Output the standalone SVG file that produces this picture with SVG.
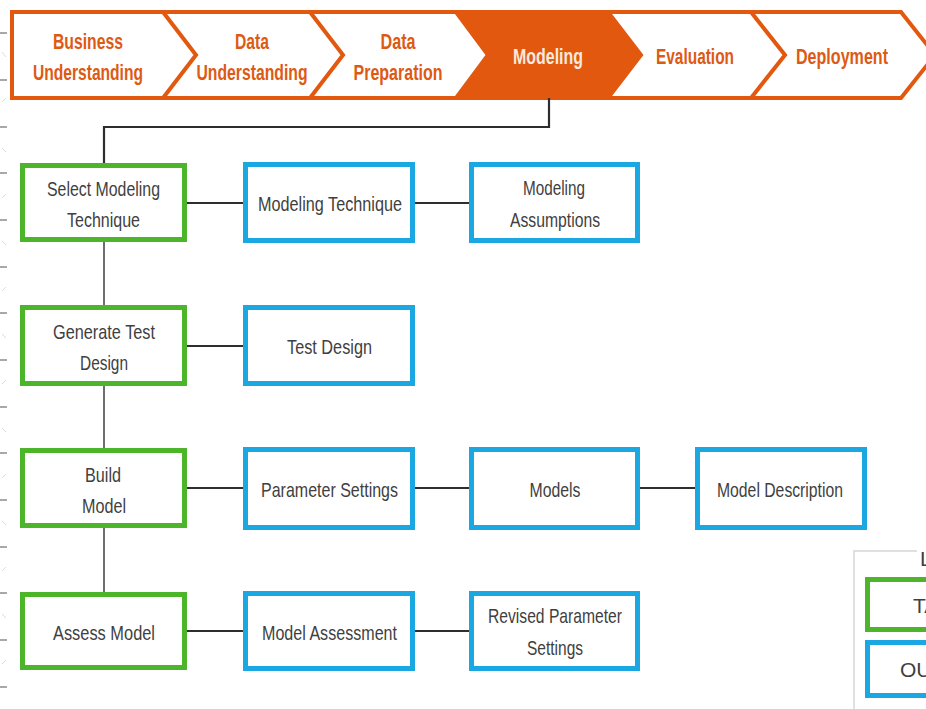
<svg xmlns="http://www.w3.org/2000/svg" width="926" height="709" viewBox="0 0 926 709">
  <style>
    .phase { font-family: "Liberation Sans Narrow", "Liberation Sans", Arial, sans-serif; font-weight: bold; font-size: 22px; fill: #DD5A14; text-anchor: middle; }
    .phase.active { fill: #F6EADF; }
    .sep { fill: none; stroke: #E2580E; stroke-width: 4; stroke-linejoin: miter; }
    .task { fill: #ffffff; stroke: #4DB52A; stroke-width: 5; }
    .out { fill: #ffffff; stroke: #1AA7E2; stroke-width: 5; }
    .lbl { font-family: "Liberation Sans Narrow", "Liberation Sans", Arial, sans-serif; font-size: 21px; fill: #3f3f3f; text-anchor: middle; }
    .leg { font-family: "Liberation Sans Narrow", "Liberation Sans", Arial, sans-serif; font-size: 21px; fill: #3f3f3f; }
    .link { fill: none; stroke: #2e2e2e; stroke-width: 2.2; }
    .vlink { fill: none; stroke: #6e6e6e; stroke-width: 2; }
    .tick { stroke: #a8a8a8; stroke-width: 2; }
    .dash { stroke: #dcdcdc; stroke-width: 1; }
  </style>

  <rect width="926" height="709" fill="#ffffff"/>

  <!-- ruler marks along the left edge -->
  <g id="ruler">
    <line class="tick" x1="0" y1="33" x2="7" y2="33"/>
    <line class="tick" x1="0" y1="80" x2="7" y2="80"/>
    <line class="tick" x1="0" y1="127" x2="7" y2="127"/>
    <line class="tick" x1="0" y1="173" x2="7" y2="173"/>
    <line class="tick" x1="0" y1="220" x2="7" y2="220"/>
    <line class="tick" x1="0" y1="267" x2="7" y2="267"/>
    <line class="tick" x1="0" y1="313" x2="7" y2="313"/>
    <line class="tick" x1="0" y1="360" x2="7" y2="360"/>
    <line class="tick" x1="0" y1="407" x2="7" y2="407"/>
    <line class="tick" x1="0" y1="453" x2="7" y2="453"/>
    <line class="tick" x1="0" y1="500" x2="7" y2="500"/>
    <line class="tick" x1="0" y1="547" x2="7" y2="547"/>
    <line class="tick" x1="0" y1="593" x2="7" y2="593"/>
    <line class="tick" x1="0" y1="640" x2="7" y2="640"/>
    <line class="tick" x1="0" y1="687" x2="7" y2="687"/>
    <line class="dash" x1="2" y1="52" x2="6" y2="57"/>
    <line class="dash" x1="2" y1="102" x2="6" y2="98"/>
    <line class="dash" x1="2" y1="148" x2="6" y2="152"/>
    <line class="dash" x1="2" y1="198" x2="6" y2="194"/>
    <line class="dash" x1="2" y1="241" x2="6" y2="245"/>
    <line class="dash" x1="2" y1="291" x2="6" y2="287"/>
    <line class="dash" x1="2" y1="334" x2="6" y2="338"/>
    <line class="dash" x1="2" y1="384" x2="6" y2="380"/>
    <line class="dash" x1="2" y1="428" x2="6" y2="432"/>
    <line class="dash" x1="2" y1="478" x2="6" y2="474"/>
    <line class="dash" x1="2" y1="521" x2="6" y2="525"/>
    <line class="dash" x1="2" y1="571" x2="6" y2="567"/>
    <line class="dash" x1="2" y1="614" x2="6" y2="618"/>
    <line class="dash" x1="2" y1="664" x2="6" y2="660"/>
  </g>

  <!-- process phase bar -->
  <g id="phases">
    <path d="M12,12 H901 L935,55 L901,98 H12 Z" fill="#ffffff" stroke="#E2580E" stroke-width="4"/>
    <path d="M456,12 L488,55 L456,98 H608 L641,55 L608,12 Z" fill="#E2580E" stroke="#E2580E" stroke-width="4" stroke-linejoin="miter"/>
    <polyline class="sep" points="163,12 196,55 163,98"/>
    <polyline class="sep" points="310,12 343,55 310,98"/>
    <polyline class="sep" points="751,12 785,55 751,98"/>
  </g>
  <g id="phase-business">
    <text class="phase" x="88" y="49" textLength="70" lengthAdjust="spacingAndGlyphs">Business</text>
    <text class="phase" x="88" y="80" textLength="110" lengthAdjust="spacingAndGlyphs">Understanding</text>
  </g>
  <g id="phase-data-understanding">
    <text class="phase" x="252" y="49" textLength="34" lengthAdjust="spacingAndGlyphs">Data</text>
    <text class="phase" x="252" y="80" textLength="111" lengthAdjust="spacingAndGlyphs">Understanding</text>
  </g>
  <g id="phase-data-preparation">
    <text class="phase" x="398" y="49" textLength="35" lengthAdjust="spacingAndGlyphs">Data</text>
    <text class="phase" x="398" y="80" textLength="89" lengthAdjust="spacingAndGlyphs">Preparation</text>
  </g>
  <g id="phase-modeling">
    <text class="phase active" x="548" y="64" textLength="70" lengthAdjust="spacingAndGlyphs">Modeling</text>
  </g>
  <g id="phase-evaluation">
    <text class="phase" x="695" y="64" textLength="78" lengthAdjust="spacingAndGlyphs">Evaluation</text>
  </g>
  <g id="phase-deployment">
    <text class="phase" x="842" y="64" textLength="92" lengthAdjust="spacingAndGlyphs">Deployment</text>
  </g>

  <!-- connectors -->
  <g id="connectors">
    <polyline class="link" points="549,98 549,127 104,127 104,163"/>
    <line class="vlink" x1="104" y1="242" x2="104" y2="305"/>
    <line class="vlink" x1="104" y1="386" x2="104" y2="448"/>
    <line class="vlink" x1="104" y1="528" x2="104" y2="592"/>
    <line class="link" x1="187" y1="203" x2="243" y2="203"/>
    <line class="link" x1="415" y1="203" x2="469" y2="203"/>
    <line class="link" x1="187" y1="346" x2="243" y2="346"/>
    <line class="link" x1="187" y1="488" x2="243" y2="488"/>
    <line class="link" x1="415" y1="488" x2="469" y2="488"/>
    <line class="link" x1="640" y1="488" x2="695" y2="488"/>
    <line class="link" x1="187" y1="631" x2="243" y2="631"/>
    <line class="link" x1="415" y1="631" x2="469" y2="631"/>
  </g>

  <!-- tasks -->
  <g id="task-select-modeling-technique">
    <rect class="task" x="22.5" y="165.5" width="162" height="74"/>
    <text class="lbl" x="103.5" y="196" textLength="113" lengthAdjust="spacingAndGlyphs">Select Modeling</text>
    <text class="lbl" x="103.5" y="227" textLength="73" lengthAdjust="spacingAndGlyphs">Technique</text>
  </g>
  <g id="task-generate-test-design">
    <rect class="task" x="22.5" y="307.5" width="162" height="76"/>
    <text class="lbl" x="104" y="339" textLength="102" lengthAdjust="spacingAndGlyphs">Generate Test</text>
    <text class="lbl" x="104" y="370" textLength="48" lengthAdjust="spacingAndGlyphs">Design</text>
  </g>
  <g id="task-build-model">
    <rect class="task" x="22.5" y="450.5" width="162" height="75"/>
    <text class="lbl" x="103" y="482" textLength="36" lengthAdjust="spacingAndGlyphs">Build</text>
    <text class="lbl" x="104" y="513" textLength="44" lengthAdjust="spacingAndGlyphs">Model</text>
  </g>
  <g id="task-assess-model">
    <rect class="task" x="22.5" y="594.5" width="162" height="73"/>
    <text class="lbl" x="104" y="640" textLength="102" lengthAdjust="spacingAndGlyphs">Assess Model</text>
  </g>

  <!-- outputs -->
  <g id="out-modeling-technique">
    <rect class="out" x="245.5" y="164.5" width="167" height="76"/>
    <text class="lbl" x="330" y="211" textLength="144" lengthAdjust="spacingAndGlyphs">Modeling Technique</text>
  </g>
  <g id="out-modeling-assumptions">
    <rect class="out" x="471.5" y="164.5" width="166" height="76"/>
    <text class="lbl" x="554" y="195" textLength="62" lengthAdjust="spacingAndGlyphs">Modeling</text>
    <text class="lbl" x="555" y="227" textLength="90" lengthAdjust="spacingAndGlyphs">Assumptions</text>
  </g>
  <g id="out-test-design">
    <rect class="out" x="245.5" y="307.5" width="167" height="76"/>
    <text class="lbl" x="329.5" y="354" textLength="85" lengthAdjust="spacingAndGlyphs">Test Design</text>
  </g>
  <g id="out-parameter-settings">
    <rect class="out" x="245.5" y="449.5" width="167" height="78"/>
    <text class="lbl" x="329.5" y="497" textLength="137" lengthAdjust="spacingAndGlyphs">Parameter Settings</text>
  </g>
  <g id="out-models">
    <rect class="out" x="471.5" y="449.5" width="166" height="78"/>
    <text class="lbl" x="555" y="497" textLength="51" lengthAdjust="spacingAndGlyphs">Models</text>
  </g>
  <g id="out-model-description">
    <rect class="out" x="697.5" y="449.5" width="167" height="78"/>
    <text class="lbl" x="780" y="497" textLength="126" lengthAdjust="spacingAndGlyphs">Model Description</text>
  </g>
  <g id="out-model-assessment">
    <rect class="out" x="245.5" y="593.5" width="167" height="75"/>
    <text class="lbl" x="329.5" y="640" textLength="135" lengthAdjust="spacingAndGlyphs">Model Assessment</text>
  </g>
  <g id="out-revised-parameter-settings">
    <rect class="out" x="471.5" y="593.5" width="166" height="75"/>
    <text class="lbl" x="555" y="623" textLength="134" lengthAdjust="spacingAndGlyphs">Revised Parameter</text>
    <text class="lbl" x="555" y="655" textLength="56" lengthAdjust="spacingAndGlyphs">Settings</text>
  </g>

  <!-- legend, running past the right edge of the canvas -->
  <g id="legend">
    <polyline points="917,551 854,551 854,712" fill="none" stroke="#d6d6d6" stroke-width="1.5"/>
    <text class="leg" x="920" y="566">LEGEND</text>
    <rect class="task" x="867.5" y="579.5" width="80" height="50"/>
    <text class="leg" x="913" y="613">TASK</text>
    <rect class="out" x="867.5" y="642.5" width="80" height="53"/>
    <text class="leg" x="900" y="677">OUTPUT</text>
  </g>
</svg>
